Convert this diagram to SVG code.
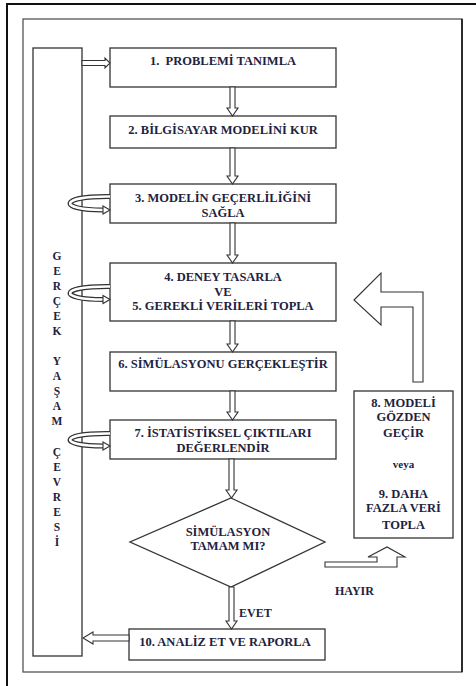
<svg xmlns="http://www.w3.org/2000/svg" width="476" height="686" viewBox="0 0 476 686">
<style>
.bx{fill:#fff;stroke:#333;stroke-width:1.3}
.ar{fill:#fff;stroke:#333;stroke-width:1.1;stroke-linejoin:miter}
.t{font-family:"Liberation Serif","Times New Roman",serif;font-weight:bold;font-size:12.5px;fill:#1d2340;text-anchor:middle}
.s{font-family:"Liberation Serif","Times New Roman",serif;font-weight:bold;font-size:12px;fill:#1d2340}
.v{font-family:"Liberation Serif","Times New Roman",serif;font-weight:bold;font-size:11.5px;fill:#1d2340;text-anchor:middle}
.lpo{fill:none;stroke:#333;stroke-width:5}
.lpi{fill:none;stroke:#fff;stroke-width:2.6}
</style>
<rect width="476" height="686" fill="#fff"/>
<path d="M7,686 V4 H476" fill="none" stroke="#111" stroke-width="2"/>
<rect x="23" y="19" width="439" height="653" fill="none" stroke="#555" stroke-width="1.3"/>
<line x1="462" y1="19" x2="462" y2="672" stroke="#222" stroke-width="1.8"/>

<g id="env">
<rect class="bx" x="33" y="48" width="49" height="608"/>
<text class="v"><tspan x="57" y="260">G</tspan><tspan x="57" y="275">E</tspan><tspan x="57" y="290">R</tspan><tspan x="57" y="305">Ç</tspan><tspan x="57" y="320">E</tspan><tspan x="57" y="335">K</tspan><tspan x="57" y="365">Y</tspan><tspan x="57" y="380">A</tspan><tspan x="57" y="395">Ş</tspan><tspan x="57" y="410">A</tspan><tspan x="57" y="425">M</tspan><tspan x="57" y="456">Ç</tspan><tspan x="57" y="471">E</tspan><tspan x="57" y="486">V</tspan><tspan x="57" y="501">R</tspan><tspan x="57" y="516">E</tspan><tspan x="57" y="531">S</tspan><tspan x="57" y="546">İ</tspan></text>
</g>

<g id="n1"><rect class="bx" x="110" y="48" width="226" height="39"/><text class="t" x="223" y="65" style="white-space:pre">1.  PROBLEMİ TANIMLA</text></g>
<g id="n2"><rect class="bx" x="110" y="116" width="226" height="32"/><text class="t" x="223" y="134">2. BİLGİSAYAR MODELİNİ KUR</text></g>
<g id="n3"><rect class="bx" x="110" y="184" width="226" height="39"/><text class="t" x="223" y="202">3. MODELİN GEÇERLİLİĞİNİ</text><text class="t" x="223" y="217">SAĞLA</text></g>
<g id="n4"><rect class="bx" x="110" y="263" width="226" height="58"/><text class="t" x="223" y="281">4. DENEY TASARLA</text><text class="t" x="223" y="296">VE</text><text class="t" x="223" y="310">5. GEREKLİ VERİLERİ TOPLA</text></g>
<g id="n6"><rect class="bx" x="110" y="352" width="226" height="39"/><text class="t" x="223" y="368">6. SİMÜLASYONU GERÇEKLEŞTİR</text></g>
<g id="n7"><rect class="bx" x="110" y="420" width="226" height="39"/><text class="t" x="223" y="437">7. İSTATİSTİKSEL ÇIKTILARI</text><text class="t" x="223" y="452">DEĞERLENDİR</text></g>
<g id="dec"><polygon class="bx" points="231,498 325,542 231,587 130,542"/><text class="t" x="228" y="536">SİMÜLASYON</text><text class="t" x="228" y="550">TAMAM MI?</text></g>
<g id="n10"><rect class="bx" x="129" y="629" width="196" height="31"/><text class="t" x="225" y="646">10. ANALİZ ET VE RAPORLA</text></g>
<g id="n89"><rect class="bx" x="354" y="391" width="99" height="147"/>
<text class="t" x="403.5" y="407">8. MODELİ</text><text class="t" x="403.5" y="421">GÖZDEN</text><text class="t" x="403.5" y="437">GEÇİR</text>
<text class="t" x="403.5" y="468" style="font-size:11px">veya</text>
<text class="t" x="403.5" y="498">9. DAHA</text><text class="t" x="403.5" y="512">FAZLA VERİ</text><text class="t" x="403.5" y="529">TOPLA</text></g>

<g id="connectors">
<polygon class="ar" points="82,60.5 105,60.5 105,58 110,63 105,68 105,65.5 82,65.5"/>
<polygon class="ar" points="230,87 235,87 235,108 238,108 232.5,116 227,108 230,108"/>
<polygon class="ar" points="230,148 235,148 235,176 238,176 232.5,184 227,176 230,176"/>
<polygon class="ar" points="230,223 235,223 235,255 238,255 232.5,263 227,255 230,255"/>
<polygon class="ar" points="230,321 235,321 235,344 238,344 232.5,352 227,344 230,344"/>
<polygon class="ar" points="230,391 235,391 235,412 238,412 232.5,420 227,412 230,412"/>
<polygon class="ar" points="229,459 234,459 234,490 237,490 231.5,498 226,490 229,490"/>
<polygon class="ar" points="229,587 234,587 234,621 237,621 231.5,629 226,621 229,621"/>
<polygon class="ar" points="129,635 93,635 93,632 83,638 93,644 93,641 129,641"/>
<path class="lpo" d="M110,196.5 C58,196 58,210 103,210"/><path class="lpi" d="M110,196.5 C58,196 58,210 103,210"/>
<polygon class="ar" points="103,206 110,210 103,214"/>
<path class="lpo" d="M110,286.5 C58,286 58,299.5 103,299.5"/><path class="lpi" d="M110,286.5 C58,286 58,299.5 103,299.5"/>
<polygon class="ar" points="103,295.5 110,299.5 103,303.5"/>
<path class="lpo" d="M110,433.5 C58,433 58,446 103,446"/><path class="lpi" d="M110,433.5 C58,433 58,446 103,446"/>
<polygon class="ar" points="103,442 110,446 103,450"/>
<polygon class="ar" points="354,300 381,273 381,292 423,292 423,382 413,382 413,307 381,307 381,325"/>
<polygon class="ar" points="325,562 377,562 377,557 368,557 387,547 405,557 397,557 397,567 325,567"/>
<text class="s" x="239" y="617">EVET</text>
<text class="s" x="335" y="595">HAYIR</text>
</g>
</svg>
